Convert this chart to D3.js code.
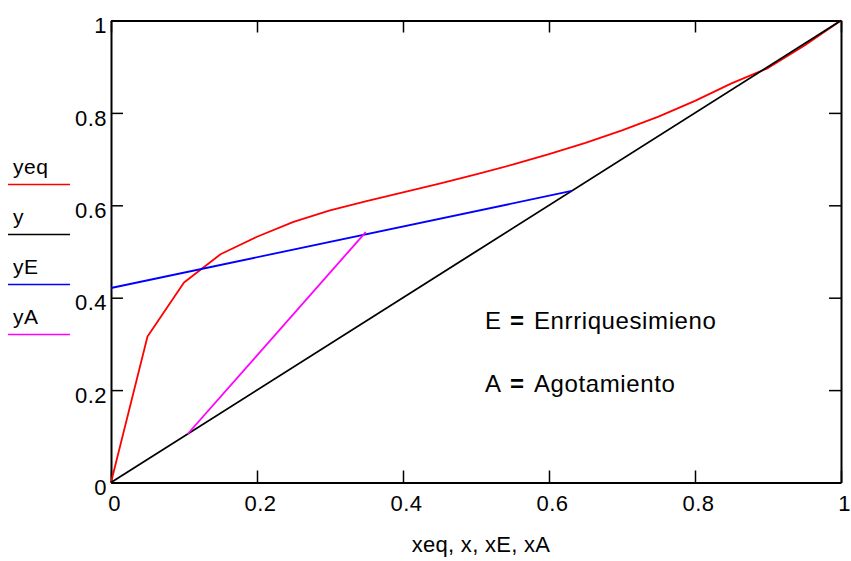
<!DOCTYPE html>
<html>
<head>
<meta charset="utf-8">
<script src="https://cdn.jsdelivr.net/npm/d3@7"></script>
<style>
  body { margin: 0; background: #fff; }
  text { font-family: "Liberation Sans", Arial, sans-serif; fill: #000; }
</style>
</head>
<body>
<svg id="chart" width="851" height="561"></svg>
<script>
// curva de equilibrio
var xeq = [0, 0.05, 0.1, 0.15, 0.2, 0.25, 0.3, 0.35, 0.4, 0.45, 0.5, 0.55, 0.6, 0.65, 0.7, 0.75, 0.8, 0.85, 0.9, 0.95, 1];
var yeq = [0, 0.316, 0.433, 0.494, 0.532, 0.564, 0.589, 0.609, 0.628, 0.647, 0.667, 0.688, 0.711, 0.735, 0.762, 0.792, 0.826, 0.864, 0.897, 0.946, 1];
// diagonal y = x
var x = [0, 1];
var y = [0, 1];
// recta de enriquecimiento
var xE = [0, 0.631];
var yE = [0.421, 0.631];
// recta de agotamiento
var xA = [0.105, 0.349];
var yA = [0.105, 0.542];

var ticks = [0, 0.2, 0.4, 0.6, 0.8, 1];
var tickLabels = ['0', '0.2', '0.4', '0.6', '0.8', '1'];
var legendLabels = ['yeq', 'y', 'yE', 'yA'];
var legendColors = ['#ff0000', '#000000', '#0000ff', '#ff00ff'];
var notes = [['E', 'Enrriquesimieno'], ['A', 'Agotamiento']];

var svg = d3.select('#chart');
var mLeft = 111, mRight = 841, mTop = 20.5, mBottom = 482.5;

var xs = d3.scaleLinear().domain([0, 1]).range([mLeft, mRight]);
var ys = d3.scaleLinear().domain([0, 1]).range([mBottom, mTop]);

function fmt(d){ return tickLabels[ticks.indexOf(d)]; }

// ejes (marcas hacia dentro en los cuatro lados)
var gB = svg.append('g').attr('transform', 'translate(0,' + mBottom + ')')
	.call(d3.axisBottom(xs).tickValues(ticks).tickFormat(fmt).tickSizeInner(-12).tickSizeOuter(0).tickPadding(13));
var gL = svg.append('g').attr('transform', 'translate(' + mLeft + ',0)')
	.call(d3.axisLeft(ys).tickValues(ticks).tickFormat(fmt).tickSizeInner(-12).tickSizeOuter(0).tickPadding(4));
var gT = svg.append('g').attr('transform', 'translate(0,' + mTop + ')')
	.call(d3.axisTop(xs).tickValues(ticks).tickFormat('').tickSizeInner(-12).tickSizeOuter(0));
var gR = svg.append('g').attr('transform', 'translate(' + mRight + ',0)')
	.call(d3.axisRight(ys).tickValues(ticks).tickFormat('').tickSizeInner(-12).tickSizeOuter(0));

[gB, gL, gT, gR].forEach(function(g){
	g.select('.domain').attr('stroke', '#000').attr('stroke-width', 2);
	g.selectAll('.tick line').attr('stroke', '#000').attr('stroke-width', 1.5);
	g.selectAll('.tick text').attr('font-size', 22).attr('letter-spacing', 0.5)
		.attr('font-family', '"Liberation Sans", Arial, sans-serif');
});
gB.selectAll('.tick text').attr('dx', 3);
gL.selectAll('.tick text').attr('dy', '0.55em');

// series
var line = d3.line().x(function(d){ return xs(d[0]); }).y(function(d){ return ys(d[1]); });
var series = [d3.zip(xeq, yeq), d3.zip(x, y), d3.zip(xE, yE), d3.zip(xA, yA)];

svg.append('g').selectAll('path.serie').data(series).enter()
	.append('path')
	.attr('class', 'serie')
	.attr('fill', 'none')
	.attr('stroke', function(d, i){ return legendColors[i]; })
	.attr('stroke-width', 1.8)
	.attr('stroke-linejoin', 'round')
	.attr('d', line);

// leyenda
var leg = svg.append('g').selectAll('g').data(legendLabels).enter()
	.append('g')
	.attr('transform', function(d, i){ return 'translate(0,' + (184.5 + i * 50) + ')'; });
leg.append('line')
	.attr('x1', 8).attr('x2', 70)
	.attr('stroke', function(d, i){ return legendColors[i]; })
	.attr('stroke-width', 1.5);
leg.append('text')
	.attr('x', 13).attr('y', -11)
	.attr('font-size', 21).attr('letter-spacing', 0.5)
	.text(function(d){ return d; });

// notas
var nt = svg.append('g').selectAll('text').data(notes).enter()
	.append('text')
	.attr('x', 485)
	.attr('y', function(d, i){ return 328.5 + i * 63.3; })
	.attr('font-size', 24);
nt.append('tspan').text(function(d){ return d[0]; });
nt.append('tspan').attr('x', 510).attr('font-weight', 'bold').text('=');
nt.append('tspan').attr('x', 534).attr('letter-spacing', 0.6).text(function(d){ return d[1]; });

// titulo eje x
svg.append('text')
	.attr('x', 481).attr('y', 552)
	.attr('text-anchor', 'middle')
	.attr('font-size', 22).attr('letter-spacing', 0.3)
	.text('xeq, x, xE, xA');
</script>
</body>
</html>
